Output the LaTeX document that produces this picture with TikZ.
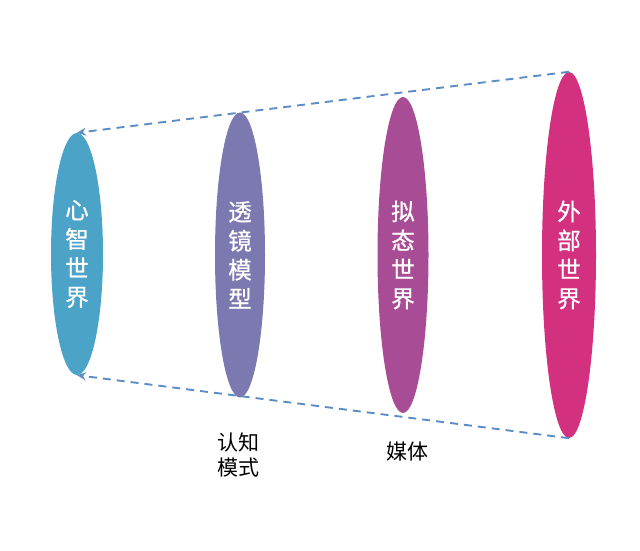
\documentclass[tikz,border=0pt]{standalone}
\usepackage{fontspec}
\setmainfont{Noto Sans CJK SC}
\newfontfamily\heavycjk{Noto Sans CJK SC}[FakeBold=0.8]
\usetikzlibrary{shapes.geometric,arrows.meta}
\definecolor{cblue}{HTML}{4BA3C7}
\definecolor{cpurple}{HTML}{7B79B0}
\definecolor{cmag}{HTML}{A84C96}
\definecolor{cpink}{HTML}{D3307F}
\definecolor{cline}{HTML}{5B8DC4}
\begin{document}
\begin{tikzpicture}[x=1pt,y=-1pt,
  lens/.style={ellipse,draw=none,inner sep=0pt,minimum width=#1,text=white,align=center,
    font=\heavycjk\fontsize{23.5}{29}\selectfont},
  lbl/.style={align=center,font=\fontsize{21}{25}\selectfont,text=black},
  dline/.style={draw=cline,line width=1.9pt,dash pattern=on 8pt off 6pt,-{Stealth[length=9pt,width=8pt]}}]
\useasboundingbox (0,0) rectangle (640,551);
\node[lens=52,minimum height=242,fill=cblue] (mind) at (77,254) {心\\智\\世\\界};
\node[lens=50,minimum height=285,fill=cpurple] (lens) at (240,255) {透\\镜\\模\\型};
\node[lens=51,minimum height=316,fill=cmag] (mimic) at (403,255) {拟\\态\\世\\界};
\node[lens=54,minimum height=366,fill=cpink] (outer) at (569,255) {外\\部\\世\\界};
\draw[dline] (outer.north) -- (mind.north);
\draw[dline] (outer.south) -- (mind.south);
\node[lbl] (cog) at (238,455) {认知\\模式};
\node[lbl] (media) at (407,452) {媒体};
\end{tikzpicture}
\end{document}
